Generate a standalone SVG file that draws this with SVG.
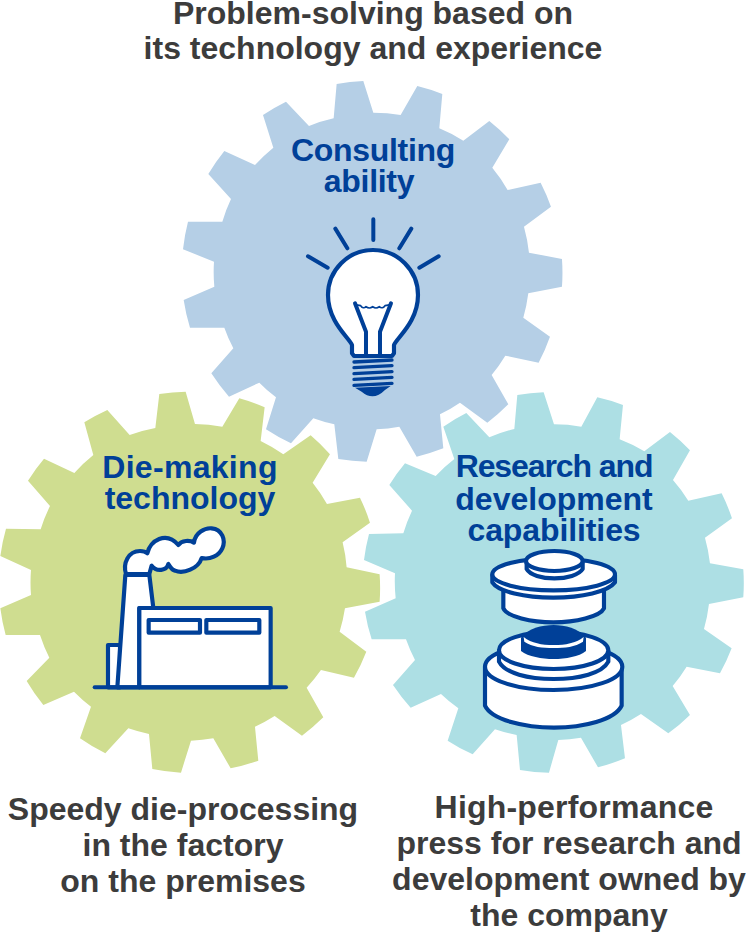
<svg xmlns="http://www.w3.org/2000/svg" width="746" height="932" viewBox="0 0 746 932">
<style>
text{font-family:"Liberation Sans",Arial,sans-serif;font-weight:700;text-anchor:middle}
.cap{font-size:32px;fill:#3c3c3c}
.lbl{font-size:32px;fill:#004098}
.ln{fill:none;stroke:#004098;stroke-width:12;stroke-linecap:round;stroke-linejoin:round}
.w{fill:#fff;stroke:#004098;stroke-width:12.5;stroke-linejoin:round}
.d{fill:#004098}
</style>
<g id="gear-consulting">
<path transform="translate(180 70) scale(.3333)" fill="#b5cfe6" d="M470,42A575,575 0 0 1 550,33L580,128A475,475 0 0 1 662,135L712,48A575,575 0 0 1 787,72L778,175A475,475 0 0 1 850,212L928,153A575,575 0 0 1 988,208L937,293A475,475 0 0 1 983,360L1082,338A575,575 0 0 1 1113,410L1032,470A475,475 0 0 1 1047,548L1146,567A575,575 0 0 1 1146,650L1045,670A475,475 0 0 1 1030,743L1110,800A575,575 0 0 1 1076,878L976,857A475,475 0 0 1 935,915L985,1003A575,575 0 0 1 922,1058L840,998A475,475 0 0 1 780,1033L790,1135A575,575 0 0 1 710,1160L658,1070A475,475 0 0 1 590,1078L560,1175A575,575 0 0 1 475,1167L463,1063A475,475 0 0 1 400,1045L333,1120A575,575 0 0 1 258,1078L288,982A475,475 0 0 1 238,938L147,980A575,575 0 0 1 94,910L160,835A475,475 0 0 1 133,773L30,773A575,575 0 0 1 11,690L103,650A475,475 0 0 1 102,575L9,538A575,575 0 0 1 24,455L127,455A475,475 0 0 1 153,387L85,312A575,575 0 0 1 133,243L225,285A475,475 0 0 1 280,233L249,135A575,575 0 0 1 318,95L387,168A475,475 0 0 1 461,145Z"/>
<text class="lbl" x="373" y="161" letter-spacing="-.3">Consulting</text>
<text class="lbl" x="369" y="192" letter-spacing="-.3">ability</text>
<g transform="translate(300 210) scale(.3333)">
<path class="ln" d="M220,28V90M106,56L142,115M334,56L298,115M24,139L83,173M416,139L358,173"/>
<path class="w" d="M162,438L156,430V405C146,382 84,335 84,255A135,135 0 1 1 354,255C354,335 292,382 282,405V430L276,438Z"/>
<path class="ln" stroke-linecap="butt" d="M165,280L198,365V438M273,280L240,365V438"/>
<path class="ln" style="stroke-width:5" d="M165,284L182,287Q190,298 198,290Q208,298 218,290Q228,298 238,290Q247,298 255,287L273,284"/>
<path class="ln" style="stroke-width:10" d="M162,456L276,450M162,473L276,467M162,491L276,485M162,508L276,502M162,526L276,520"/>
<path class="d" d="M165,533L272,528L255,540Q220,575 185,545Z"/>
</g>
</g>
<g id="gear-die-making">
<path transform="translate(0 385) scale(.3333)" fill="#cfdd90" d="M478,27A575,575 0 0 1 557,20L585,117A475,475 0 0 1 667,125L718,40A575,575 0 0 1 794,67L782,168A475,475 0 0 1 850,208L932,151A575,575 0 0 1 990,208L938,293A475,475 0 0 1 981,357L1080,338A575,575 0 0 1 1110,413L1028,472A475,475 0 0 1 1040,547L1139,568A575,575 0 0 1 1139,650L1035,670A475,475 0 0 1 1019,740L1099,800A575,575 0 0 1 1062,878L963,855A475,475 0 0 1 920,908L970,997A575,575 0 0 1 906,1052L824,993A475,475 0 0 1 765,1025L775,1127A575,575 0 0 1 692,1150L640,1060A475,475 0 0 1 573,1067L543,1163A575,575 0 0 1 457,1152L447,1047A475,475 0 0 1 385,1030L316,1105A575,575 0 0 1 240,1060L273,965A475,475 0 0 1 222,920L130,960A575,575 0 0 1 80,888L148,818A475,475 0 0 1 120,750L17,750A575,575 0 0 1 1,670L93,630A475,475 0 0 1 93,555L1,513A575,575 0 0 1 18,431L122,433A475,475 0 0 1 150,363L84,287A575,575 0 0 1 132,221L223,264A475,475 0 0 1 280,210L253,112A575,575 0 0 1 322,75L389,150A475,475 0 0 1 466,129Z"/>
<text class="lbl" x="190" y="478" letter-spacing=".3">Die-making</text>
<text class="lbl" x="190" y="509">technology</text>
<g transform="translate(90 520) scale(.3333)">
<path class="w" d="M54,502V375H90V502Z"/>
<path class="w" d="M82,502L106,165H178L190,264H148V502Z"/>
<path class="w" d="M108,162C98,130 115,93 150,93C160,93 168,96 172,100C180,62 228,32 265,75C275,60 300,60 312,68C315,38 345,23 365,25C397,28 408,60 397,85C387,107 360,120 335,114C325,147 280,162 255,152C245,150 238,137 235,132C230,152 200,157 185,137L178,162Z"/>
<rect class="w" x="148" y="264" width="394" height="238"/>
<rect class="w" x="176" y="300" width="154" height="38"/>
<rect class="w" x="349" y="300" width="159" height="38"/>
<path class="ln" stroke-linecap="butt" d="M14,502H588"/>
</g>
</g>
<g id="gear-research">
<path transform="translate(360 385) scale(.3333)" fill="#addfe4" d="M472,30A575,575 0 0 1 551,22L582,118A475,475 0 0 1 664,125L712,37A575,575 0 0 1 789,60L779,163A475,475 0 0 1 853,199L930,141A575,575 0 0 1 990,196L939,285A475,475 0 0 1 985,347L1085,325A575,575 0 0 1 1116,400L1035,458A475,475 0 0 1 1050,535L1150,553A575,575 0 0 1 1150,637L1047,657A475,475 0 0 1 1032,732L1115,790A575,575 0 0 1 1080,865L980,845A475,475 0 0 1 938,903L990,990A575,575 0 0 1 925,1045L843,987A475,475 0 0 1 783,1020L795,1120A575,575 0 0 1 714,1147L663,1058A475,475 0 0 1 595,1065L567,1163A575,575 0 0 1 480,1155L470,1050A475,475 0 0 1 405,1033L338,1108A575,575 0 0 1 263,1067L295,970A475,475 0 0 1 243,927L152,968A575,575 0 0 1 99,900L165,825A475,475 0 0 1 138,763L35,763A575,575 0 0 1 15,680L107,640A475,475 0 0 1 105,565L12,525A575,575 0 0 1 27,447L130,445A475,475 0 0 1 156,377L88,300A575,575 0 0 1 135,235L227,273A475,475 0 0 1 283,222L250,125A575,575 0 0 1 319,84L388,157A475,475 0 0 1 463,132Z"/>
<text class="lbl" x="554" y="477" letter-spacing="-1.1">Research and</text>
<text class="lbl" x="554" y="510">development</text>
<text class="lbl" x="554" y="541" letter-spacing="-.1">capabilities</text>
<g transform="translate(475 545) scale(.3333)">
<path class="w" d="M85,130V190C95,215 170,232 235,232C300,232 375,215 387,190V130Z"/>
<path class="w" d="M52,90V112C70,140 150,158 235,158C320,158 400,140 420,112V90Z"/>
<ellipse class="w" cx="236" cy="88" rx="184" ry="48"/>
<path class="w" d="M155,52V72C165,90 200,100 238,100C276,100 312,90 323,72V52Z"/>
<ellipse class="w" cx="238" cy="48" rx="85" ry="30"/>
<path class="w" d="M30,365V482C50,525 150,548 237,548C324,548 420,525 440,482V365Z"/>
<ellipse class="w" cx="236" cy="365" rx="206" ry="70"/>
<path class="w" d="M72,318V350C90,385 160,402 236,402C312,402 382,385 400,350V318Z"/>
<ellipse class="w" cx="236" cy="316" rx="164" ry="56"/>
<path class="d" d="M138,278V318C160,335 200,342 236,342C272,342 312,335 333,318V278C310,250 270,240 236,240C200,240 160,250 138,278Z"/>
<path fill="#fff" d="M146,276C170,295 200,300 236,300C272,300 302,295 326,276L324,290C300,306 270,309 236,309C202,309 172,306 148,290Z"/>
</g>
</g>
<g id="captions">
<text class="cap" x="373" y="24">Problem-solving based on</text>
<text class="cap" x="373" y="59">its technology and experience</text>
<text class="cap" x="183" y="820">Speedy die-processing</text>
<text class="cap" x="183" y="856">in the factory</text>
<text class="cap" x="183" y="892">on the premises</text>
<text class="cap" x="574" y="818" letter-spacing=".2">High-performance</text>
<text class="cap" x="569" y="854">press for research and</text>
<text class="cap" x="569" y="890">development owned by</text>
<text class="cap" x="569" y="926">the company</text>
</g>
<g id="connectors"/>
</svg>
